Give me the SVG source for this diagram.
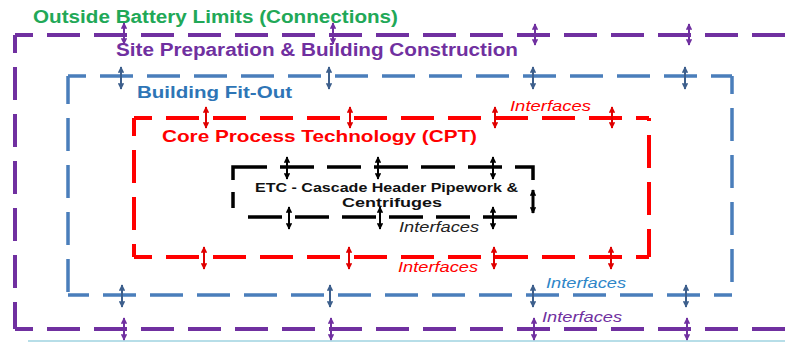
<svg xmlns="http://www.w3.org/2000/svg" width="795" height="342" viewBox="0 0 795 342">
<style>
.t{font-family:"Liberation Sans",Arial,sans-serif;font-weight:bold}
.i{font-family:"Liberation Sans",Arial,sans-serif;font-style:italic;font-size:14px}
.pl{stroke:#7030a0;stroke-width:4;fill:none;stroke-dasharray:33 14;stroke-dashoffset:15}
.bl{stroke:#4a7ebb;stroke-width:3.5;fill:none;stroke-dasharray:33 14;stroke-dashoffset:15}
.rl{stroke:#ff0000;stroke-width:4;fill:none;stroke-dasharray:33 14;stroke-dashoffset:15}
.kl{stroke:#000;stroke-width:3.5;fill:none}
.a{stroke-width:2;fill:none}
.ap{stroke:#7030a0;marker-start:url(#mp);marker-end:url(#mp)}
.ab{stroke:#3d5f8c;marker-start:url(#mb);marker-end:url(#mb)}
.ar{stroke:#e00000;marker-start:url(#mr);marker-end:url(#mr)}
.ak{stroke:#000;marker-start:url(#mk);marker-end:url(#mk)}
</style>
<defs>
<marker id="mp" viewBox="0 0 10 10" refX="9" refY="5" markerWidth="6.5" markerHeight="6.5" markerUnits="userSpaceOnUse" orient="auto-start-reverse"><path d="M0,0 L10,5 L0,10 z" fill="#7030a0"/></marker>
<marker id="mb" viewBox="0 0 10 10" refX="9" refY="5" markerWidth="6.5" markerHeight="6.5" markerUnits="userSpaceOnUse" orient="auto-start-reverse"><path d="M0,0 L10,5 L0,10 z" fill="#3d5f8c"/></marker>
<marker id="mr" viewBox="0 0 10 10" refX="9" refY="5" markerWidth="6.5" markerHeight="6.5" markerUnits="userSpaceOnUse" orient="auto-start-reverse"><path d="M0,0 L10,5 L0,10 z" fill="#e00000"/></marker>
<marker id="mk" viewBox="0 0 10 10" refX="9" refY="5" markerWidth="6.5" markerHeight="6.5" markerUnits="userSpaceOnUse" orient="auto-start-reverse"><path d="M0,0 L10,5 L0,10 z" fill="#000"/></marker>
</defs>
<rect width="795" height="342" fill="#fff"/>
<line x1="28" y1="341" x2="785" y2="341" stroke="#9fd3e0" stroke-width="1.5"/>

<g id="outside-battery-limits">
<text class="t" x="33" y="23" font-size="18" fill="#21a857" textLength="365" lengthAdjust="spacingAndGlyphs">Outside Battery Limits (Connections)</text>
</g>

<g id="site-preparation">
<line class="pl" x1="15" y1="35" x2="795" y2="35"/>
<line class="pl" x1="15" y1="35" x2="15" y2="329"/>
<line class="pl" x1="15" y1="329" x2="787" y2="329"/>
<text class="t" x="116" y="56" font-size="17.5" fill="#7030a0" textLength="402" lengthAdjust="spacingAndGlyphs">Site Preparation &amp; Building Construction</text>
</g>

<g id="building-fit-out">
<line class="bl" x1="68" y1="76" x2="732" y2="76"/>
<line class="bl" x1="68" y1="76" x2="68" y2="295" style="stroke-dashoffset:5"/>
<line class="bl" x1="732" y1="76" x2="732" y2="295"/>
<line class="bl" x1="732" y1="295" x2="68" y2="295"/>
<text class="t" x="137" y="98" font-size="17" fill="#2e75b6" textLength="155" lengthAdjust="spacingAndGlyphs">Building Fit-Out</text>
</g>

<g id="core-process-technology">
<line class="rl" x1="134" y1="118" x2="649" y2="118"/>
<line class="rl" x1="134" y1="118" x2="134" y2="257"/>
<line class="rl" x1="649" y1="118" x2="649" y2="257" style="stroke-dashoffset:30"/>
<line class="rl" x1="134" y1="257" x2="649" y2="257"/>
<text class="t" x="162" y="142" font-size="17" fill="#ff0000" textLength="315" lengthAdjust="spacingAndGlyphs">Core Process Technology (CPT)</text>
</g>

<g id="etc-cascade">
<path class="kl" d="M233 180 V167 H533 V180" stroke-dasharray="47 13 34 13 34 13 34 13 34 13 34 13 34 13 34 13 30"/>
<line class="kl" x1="233" y1="192" x2="233" y2="208"/>
<line class="kl" x1="248" y1="217" x2="517" y2="217" stroke-dasharray="34 13"/>
<text class="t" x="255" y="192" font-size="12.5" fill="#111" textLength="263" lengthAdjust="spacingAndGlyphs">ETC - Cascade Header Pipework &amp;</text>
<text class="t" x="342" y="207" font-size="12.5" fill="#111" textLength="100" lengthAdjust="spacingAndGlyphs">Centrifuges</text>
</g>

<g id="connectors" class="a">
<line class="ap" x1="124" y1="23" x2="124" y2="44"/>
<line class="ap" x1="333" y1="23" x2="333" y2="44"/>
<line class="ap" x1="535" y1="24" x2="535" y2="45"/>
<line class="ap" x1="689" y1="24" x2="689" y2="45"/>
<line class="ab" x1="121" y1="67" x2="121" y2="89"/>
<line class="ab" x1="329" y1="67" x2="329" y2="89"/>
<line class="ab" x1="533" y1="67" x2="533" y2="89"/>
<line class="ab" x1="685" y1="67" x2="685" y2="89"/>
<line class="ar" x1="206" y1="107" x2="206" y2="128"/>
<line class="ar" x1="350" y1="107" x2="350" y2="128"/>
<line class="ar" x1="495" y1="107" x2="495" y2="128"/>
<line class="ar" x1="612" y1="107" x2="612" y2="128"/>
<line class="ak" x1="287" y1="157" x2="287" y2="179"/>
<line class="ak" x1="378" y1="157" x2="378" y2="179"/>
<line class="ak" x1="493" y1="157" x2="493" y2="179"/>
<line class="ak" x1="289" y1="207" x2="289" y2="229"/>
<line class="ak" x1="380" y1="207" x2="380" y2="229"/>
<line class="ak" x1="493" y1="207" x2="493" y2="229"/>
<line class="ak" x1="533" y1="190" x2="533" y2="213" style="stroke-width:3"/>
<line class="ar" x1="204" y1="247" x2="204" y2="269"/>
<line class="ar" x1="349" y1="247" x2="349" y2="269"/>
<line class="ar" x1="494" y1="247" x2="494" y2="269"/>
<line class="ar" x1="611" y1="247" x2="611" y2="269"/>
<line class="ab" x1="122" y1="285" x2="122" y2="307"/>
<line class="ab" x1="330" y1="285" x2="330" y2="307"/>
<line class="ab" x1="533" y1="285" x2="533" y2="307"/>
<line class="ab" x1="686" y1="285" x2="686" y2="307"/>
<line class="ap" x1="124" y1="318" x2="124" y2="340"/>
<line class="ap" x1="331" y1="318" x2="331" y2="340"/>
<line class="ap" x1="534" y1="318" x2="534" y2="340"/>
<line class="ap" x1="687" y1="318" x2="687" y2="340"/>
</g>

<g id="interface-labels">
<text class="i" x="510" y="111" fill="#ff0000" textLength="81" lengthAdjust="spacingAndGlyphs">Interfaces</text>
<text class="i" x="399" y="232" fill="#222" textLength="80" lengthAdjust="spacingAndGlyphs">Interfaces</text>
<text class="i" x="398" y="272" fill="#ff0000" textLength="80" lengthAdjust="spacingAndGlyphs">Interfaces</text>
<text class="i" x="546" y="288" fill="#2e86c8" textLength="80" lengthAdjust="spacingAndGlyphs">Interfaces</text>
<text class="i" x="542" y="322" fill="#7030a0" textLength="80" lengthAdjust="spacingAndGlyphs">Interfaces</text>
</g>
</svg>
